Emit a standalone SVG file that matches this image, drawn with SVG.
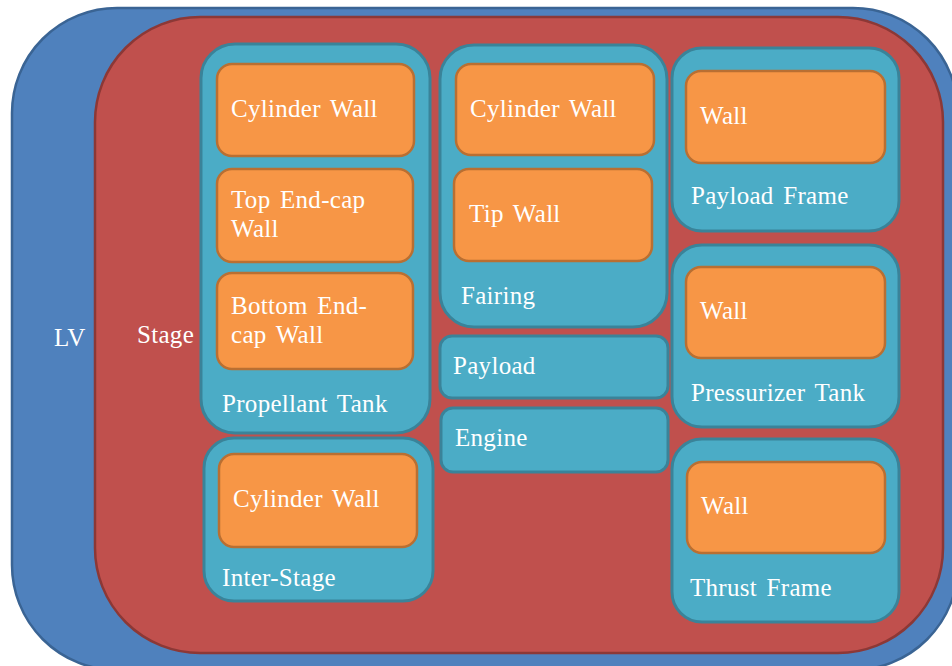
<svg xmlns="http://www.w3.org/2000/svg" width="952" height="666" viewBox="0 0 952 666">
<style>
.lv{fill:#4f81bd;stroke:#3a6494;stroke-width:2.5}
.st{fill:#c0504d;stroke:#8c3836;stroke-width:2.5}
.tl{fill:#4bacc6;stroke:#3a8399;stroke-width:3}
.or{fill:#f79646;stroke:#b96f32;stroke-width:2.5}
text{font-family:"Liberation Serif","Times New Roman",serif;font-size:25px;fill:#ffffff;letter-spacing:0.3px;word-spacing:3px}
</style>
<rect width="952" height="666" fill="#ffffff"/>
<g id="lv">
<rect class="lv" x="12" y="8" width="946" height="662" rx="105"/>
<text x="54" y="346">LV</text>
</g>
<g id="stage">
<rect class="st" x="95" y="17" width="848" height="636" rx="105"/>
<text x="137" y="343">Stage</text>
</g>
<g id="propellant-tank">
<rect class="tl" x="201" y="44" width="229" height="389" rx="34"/>
<text x="222" y="412">Propellant Tank</text>
</g>
<g id="pt-cylinder-wall">
<rect class="or" x="217" y="64" width="197" height="92" rx="15"/>
<text x="231" y="117">Cylinder Wall</text>
</g>
<g id="pt-top-endcap-wall">
<rect class="or" x="217" y="169" width="196" height="93" rx="15"/>
<text x="231" y="208">Top End-cap</text>
<text x="231" y="237">Wall</text>
</g>
<g id="pt-bottom-endcap-wall">
<rect class="or" x="217" y="273" width="196" height="96" rx="15"/>
<text x="231" y="314">Bottom End-</text>
<text x="231" y="343">cap Wall</text>
</g>
<g id="inter-stage">
<rect class="tl" x="204" y="438" width="229" height="163" rx="30"/>
<text x="222" y="586">Inter-Stage</text>
</g>
<g id="is-cylinder-wall">
<rect class="or" x="219" y="454" width="198" height="93" rx="15"/>
<text x="233" y="507">Cylinder Wall</text>
</g>
<g id="fairing">
<rect class="tl" x="440" y="45" width="227" height="282" rx="34"/>
<text x="461" y="304">Fairing</text>
</g>
<g id="f-cylinder-wall">
<rect class="or" x="456" y="64" width="198" height="91" rx="15"/>
<text x="470" y="117">Cylinder Wall</text>
</g>
<g id="f-tip-wall">
<rect class="or" x="454" y="169" width="198" height="92" rx="15"/>
<text x="469" y="222">Tip Wall</text>
</g>
<g id="payload">
<rect class="tl" x="440" y="336" width="228" height="62" rx="12"/>
<text x="453" y="374">Payload</text>
</g>
<g id="engine">
<rect class="tl" x="441" y="408" width="227" height="64" rx="12"/>
<text x="455" y="446">Engine</text>
</g>
<g id="payload-frame">
<rect class="tl" x="672" y="48" width="227" height="183" rx="30"/>
<text x="691" y="204">Payload Frame</text>
</g>
<g id="pf-wall">
<rect class="or" x="686" y="71" width="199" height="92" rx="15"/>
<text x="700" y="124">Wall</text>
</g>
<g id="pressurizer-tank">
<rect class="tl" x="672" y="245" width="227" height="182" rx="30"/>
<text x="691" y="401">Pressurizer Tank</text>
</g>
<g id="prt-wall">
<rect class="or" x="686" y="267" width="199" height="91" rx="15"/>
<text x="700" y="319">Wall</text>
</g>
<g id="thrust-frame">
<rect class="tl" x="672" y="439" width="227" height="183" rx="30"/>
<text x="690" y="596">Thrust Frame</text>
</g>
<g id="tf-wall">
<rect class="or" x="687" y="462" width="198" height="91" rx="15"/>
<text x="701" y="514">Wall</text>
</g>
<g id="connectors"></g>
</svg>
